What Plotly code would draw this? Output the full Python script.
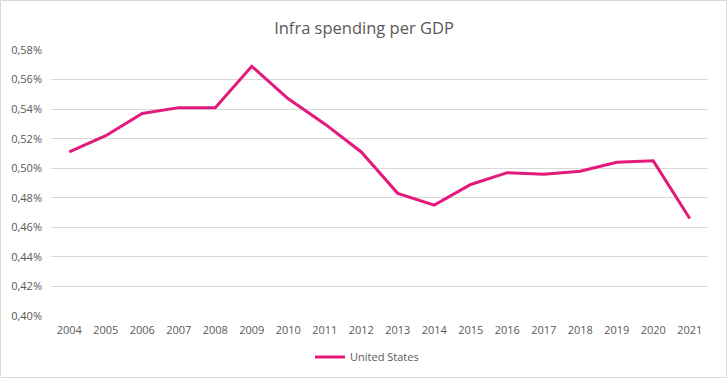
import plotly.graph_objects as go

years = ["2004", "2005", "2006", "2007", "2008", "2009", "2010", "2011", "2012",
         "2013", "2014", "2015", "2016", "2017", "2018", "2019", "2020", "2021"]
us_values = [0.511, 0.522, 0.537, 0.541, 0.541, 0.569, 0.547, 0.530, 0.511,
             0.483, 0.475, 0.489, 0.497, 0.496, 0.498, 0.504, 0.505, 0.466]
series_name = "United States"
title_text = "Infra spending per GDP"

W, H = 728, 379
ml, mr, mt, mb = 51, 20, 50, 63
pw, ph = W - ml - mr, H - mt - mb

fig = go.Figure()
fig.add_trace(go.Scatter(
    x=years, y=us_values, mode="lines", name=series_name,
    line=dict(color="#E3197B", width=3),
))

gray = "#595959"
fig.update_layout(
    width=W, height=H,
    margin=dict(l=ml, r=mr, t=mt, b=mb, autoexpand=False),
    paper_bgcolor="white", plot_bgcolor="white",
    separators=", ",
    font=dict(family="Open Sans, sans-serif", color=gray, size=11),
    title=dict(text=title_text, x=0.5, xanchor="center", y=1 - 28 / H, yanchor="middle",
               font=dict(size=16.5, color=gray)),
    showlegend=True,
    legend=dict(orientation="h", x=(367 - ml) / pw, xanchor="center",
                y=-(357 - mt - ph) / ph, yanchor="middle",
                font=dict(size=11, color=gray), itemwidth=30),
    xaxis=dict(type="category", range=[-0.5, len(years) - 0.5], showgrid=False,
               showline=False, ticks="", tickfont=dict(size=11, color=gray),
               ticklabelstandoff=6),
    yaxis=dict(range=[0.40, 0.58], dtick=0.02, tick0=0.40, tickformat=".2f",
               ticksuffix="%", showgrid=True, gridcolor="#D9D9D9", gridwidth=1,
               zeroline=False, showline=False, ticks="",
               tickfont=dict(size=11, color=gray), ticklabelstandoff=8),
)

# outer chart border
fig.add_shape(type="rect", xref="paper", yref="paper",
              x0=(0.5 - ml) / pw, x1=(W - 1.5 - ml) / pw,
              y0=-(H - 1.5 - mt - ph) / ph, y1=1 + (mt - 0.5) / ph,
              line=dict(color="#D9D9D9", width=1), layer="below")

fig.write_html("out.html", config={"displayModeBar": False},
               post_script="document.body.style.margin='0';document.body.style.overflow='hidden';")
